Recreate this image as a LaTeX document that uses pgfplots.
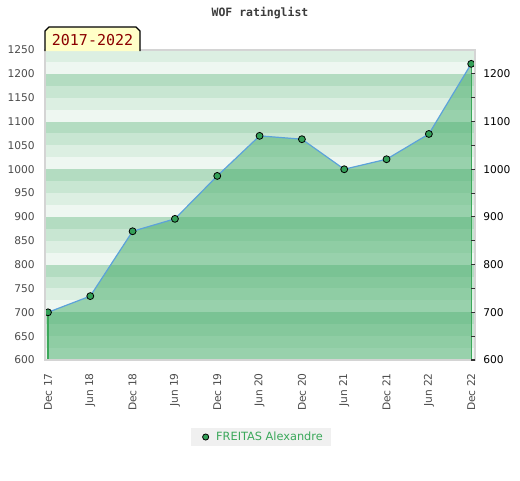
\documentclass[border=0pt]{standalone}
\usepackage{pgfplots}
\pgfplotsset{compat=1.18}
\usepackage{fontspec}
\setmainfont{DejaVu Sans}
\setmonofont{DejaVu Sans Mono}
\definecolor{bandA}{RGB}{238,247,241}
\definecolor{bandB}{RGB}{220,239,226}
\definecolor{bandC}{RGB}{200,230,210}
\definecolor{bandD}{RGB}{179,220,193}
\definecolor{areagreen}{RGB}{67,172,104}
\definecolor{edgegreen}{RGB}{60,168,90}
\definecolor{lineblue}{RGB}{92,162,218}
\definecolor{markgreen}{RGB}{52,160,88}
\definecolor{framegray}{RGB}{212,212,212}
\definecolor{labelgray}{RGB}{75,75,75}
\definecolor{titlegray}{RGB}{60,60,60}
\definecolor{legendgray}{RGB}{240,240,240}
\definecolor{legendgreen}{RGB}{58,168,90}
\definecolor{yearred}{RGB}{139,0,0}
\definecolor{yearfill}{RGB}{255,255,200}
\begin{document}
\begin{tikzpicture}
\useasboundingbox (0pt,0pt) rectangle (390pt,360pt);
\begin{axis}[
  at={(33.75pt,90pt)}, anchor=south west,
  scale only axis, width=322.5pt, height=232.5pt,
  xmin=-0.07, xmax=10.09, ymin=600, ymax=1250,
  axis on top=true,
  clip mode=individual,
  axis line style={draw=framegray, line width=1.1pt},
  xtick={0,...,10},
  xticklabels={Dec 17,Jun 18,Dec 18,Jun 19,Dec 19,Jun 20,Dec 20,Jun 21,Dec 21,Jun 22,Dec 22},
  ytick={600,650,...,1250},
  major tick length=0pt,
  tick style={draw=none},
  tick label style={font=\fontsize{8}{9}\selectfont, text=labelgray},
  /pgf/number format/assume math mode=true,
  /pgf/number format/1000 sep={},
  xticklabel style={rotate=90, anchor=east, inner sep=0pt},
  xticklabel shift=9.75pt,
  yticklabel style={anchor=east, inner sep=0pt},
  yticklabel shift=7.5pt,
  legend style={at={(axis description cs:0.5023,-0.2484)}, anchor=center,
    draw=none, fill=legendgray, font=\fontsize{8.5}{10}\selectfont, text=legendgreen,
    inner xsep=6pt, inner ysep=3pt, nodes={inner sep=0pt}},
  legend image code/.code={
    \path[draw=none, fill=none] (0pt,0pt) -- (12.75pt,0pt);
    \node[circle, fill=markgreen, draw=black, line width=0.6pt, inner sep=0pt, minimum size=4.6pt] at (2.25pt,0pt) {};
  },
  legend cell align=left,
]
\pgfplotsinvokeforeach{600,700,800,900,1000,1100}{
  \fill[bandA] (axis cs:-0.07,#1) rectangle (axis cs:10.09,#1+25);
  \fill[bandB] (axis cs:-0.07,#1+25) rectangle (axis cs:10.09,#1+50);
  \fill[bandC] (axis cs:-0.07,#1+50) rectangle (axis cs:10.09,#1+75);
  \fill[bandD] (axis cs:-0.07,#1+75) rectangle (axis cs:10.09,#1+100);
}
\fill[bandA] (axis cs:-0.07,1200) rectangle (axis cs:10.09,1225);
\fill[bandB] (axis cs:-0.07,1225) rectangle (axis cs:10.09,1250);
\addplot[draw=none, fill=areagreen, fill opacity=0.5, forget plot] coordinates {
(0,700) (1,734) (2,870) (3,896) (4,986) (5,1070) (6,1063) (7,1000) (8,1021) (9,1074) (10,1221)
} \closedcycle;
\addplot[edgegreen, line width=0.9pt, forget plot] coordinates {(0,600) (0,700)};
\addplot[edgegreen, line width=0.9pt, forget plot] coordinates {(10,600) (10,1221)};
\addplot[lineblue, line width=0.9pt, forget plot] coordinates {
(0,700) (1,734) (2,870) (3,896) (4,986) (5,1070) (6,1063) (7,1000) (8,1021) (9,1074) (10,1221)
};
\addplot[only marks, mark=*, mark size=2.6pt, mark options={fill=markgreen, draw=black, line width=0.6pt}] coordinates {
(0,700) (1,734) (2,870) (3,896) (4,986) (5,1070) (6,1063) (7,1000) (8,1021) (9,1074) (10,1221)
};
\addlegendentry{FREITAS Alexandre}
\end{axis}
\begin{axis}[
  at={(33.75pt,90pt)}, anchor=south west,
  scale only axis, width=322.5pt, height=232.5pt,
  xmin=-0.07, xmax=10.09, ymin=600, ymax=1250,
  axis x line=none, axis y line*=right,
  axis line style={draw=none},
  ytick={600,700,...,1200},
  minor ytick={650,750,...,1150},
  tick align=inside,
  major tick length=3pt, minor tick length=3pt,
  tick style={draw=black!80, line width=0.8pt},
  tick label style={font=\fontsize{8}{9}\selectfont, text=black},
  /pgf/number format/assume math mode=true,
  /pgf/number format/1000 sep={},
  yticklabel style={anchor=west, inner sep=0pt},
  yticklabel shift=6pt,
]
\addplot[draw=none] coordinates {(0,600)};
\end{axis}
\node[font=\ttfamily\bfseries\fontsize{8.6}{10}\selectfont, text=titlegray] at (195pt,350.25pt) {WOF ratinglist};
\draw[fill=yearfill, draw=black, line width=0.8pt] (33.75pt,321.75pt) -- (33.75pt,336.75pt) -- (36.75pt,339.75pt) -- (102pt,339.75pt) -- (105pt,336.75pt) -- (105pt,321.75pt);
\node[font=\ttfamily\fontsize{11.25}{12}\selectfont, text=yearred, inner sep=0pt] at (69.4pt,330pt) {2017-2022};
\end{tikzpicture}
\end{document}
